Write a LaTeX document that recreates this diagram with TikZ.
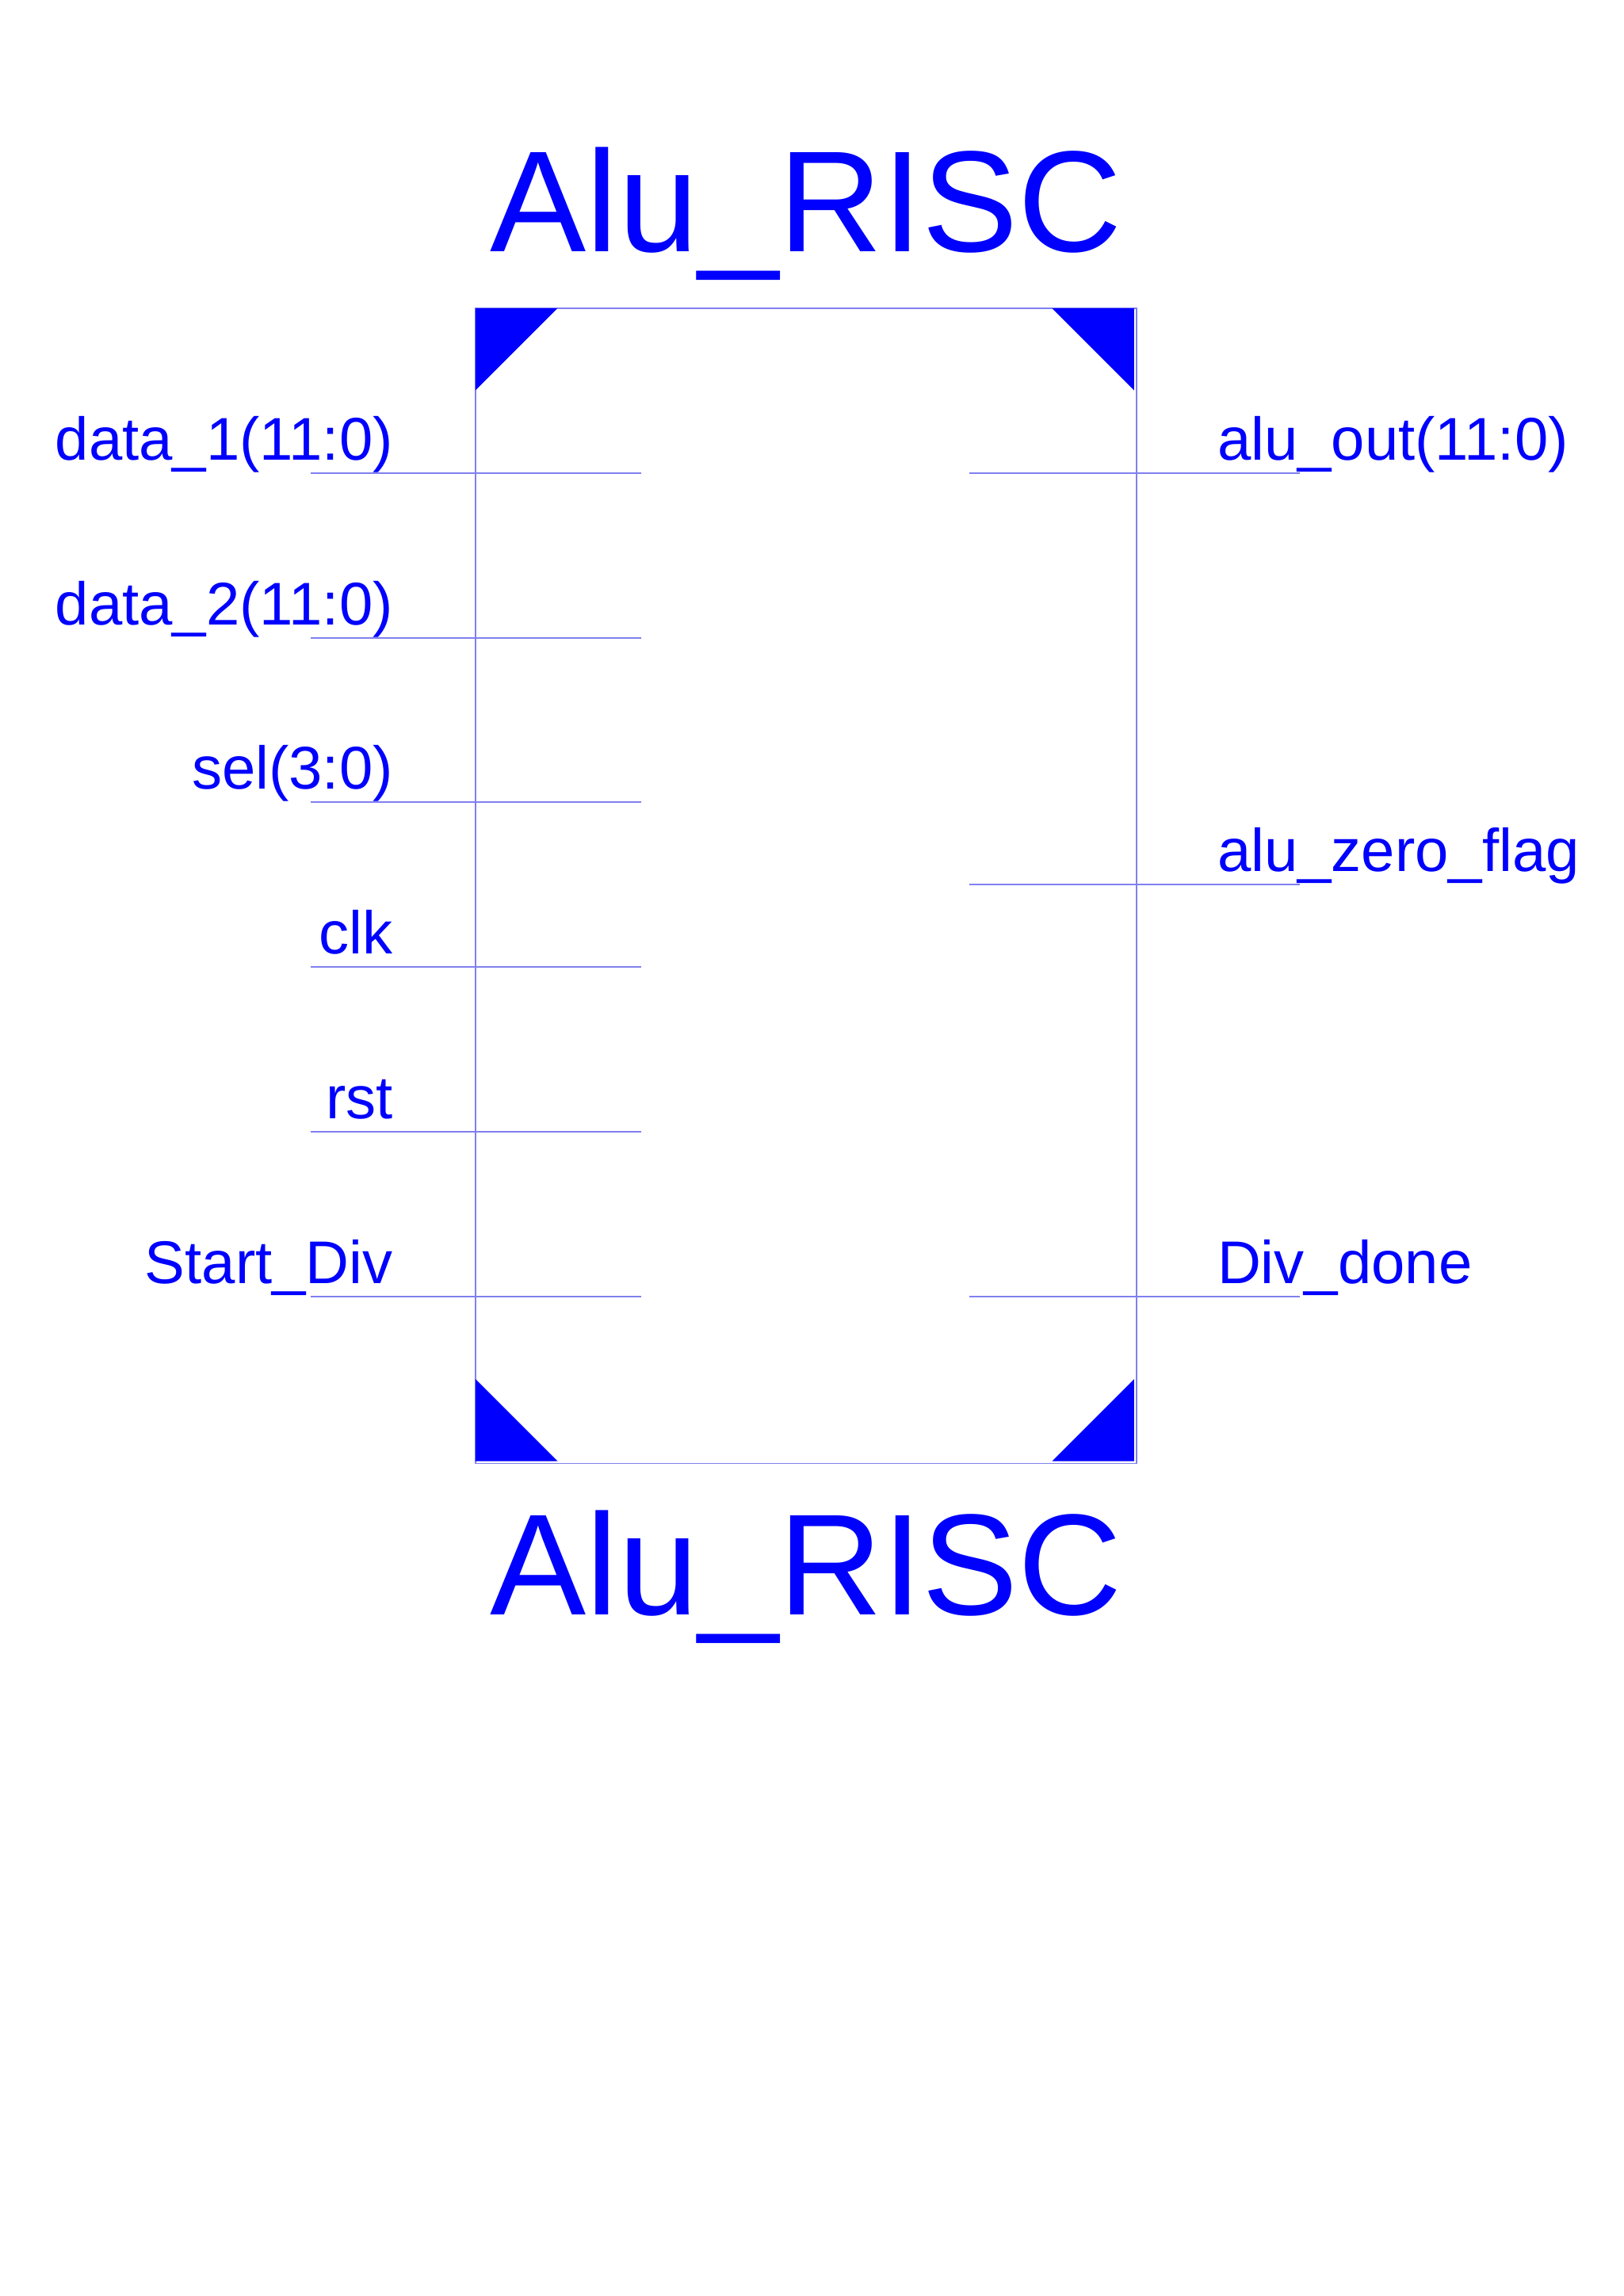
\documentclass[tikz,border=0pt]{standalone}
\usepackage{fontspec}
\setmainfont{Liberation Sans}
\usepackage{tikz}

\definecolor{symblue}{RGB}{0,0,255}
\definecolor{wireblue}{RGB}{128,128,240}

\tikzset{
    pinlabel/.style={inner sep=0pt, text=symblue, font=\fontsize{22.2}{26}\selectfont},
    symtitle/.style={inner sep=0pt, text=symblue, anchor=base, font=\fontsize{53}{60}\selectfont},
    pinwire/.style={wireblue, line width=0.6pt},
}

\begin{document}
\begin{tikzpicture}
    \useasboundingbox (0,0) rectangle (21,29.7);

    % Reference coordinates
    \coordinate (boxNW) at (6.15,25.71);
    \coordinate (boxSE) at (14.70,10.77);

    \coordinate (data1Out) at (4.02,23.58);
    \coordinate (data1In) at (8.29,23.58);

    \coordinate (data2Out) at (4.02,21.45);
    \coordinate (data2In) at (8.29,21.45);

    \coordinate (selOut) at (4.02,19.32);
    \coordinate (selIn) at (8.29,19.32);

    \coordinate (clkOut) at (4.02,17.19);
    \coordinate (clkIn) at (8.29,17.19);

    \coordinate (rstOut) at (4.02,15.06);
    \coordinate (rstIn) at (8.29,15.06);

    \coordinate (startOut) at (4.02,12.93);
    \coordinate (startIn) at (8.29,12.93);

    \coordinate (aluOutIn) at (12.54,23.58);
    \coordinate (aluOutOut) at (16.81,23.58);

    \coordinate (zeroIn) at (12.54,18.26);
    \coordinate (zeroOut) at (16.81,18.26);

    \coordinate (doneIn) at (12.54,12.93);
    \coordinate (doneOut) at (16.81,12.93);

    % Titles
    \node[symtitle] (titleTop) at (10.43,26.44) {Alu\_RISC};
    \node[symtitle] (titleBot) at (10.43,8.81) {Alu\_RISC};

    % Frame
    \draw[wireblue, line width=0.45pt] (boxNW) rectangle (boxSE);

    % Corner marks
    \fill[symblue] (6.15,25.71) -- (7.21,25.71) -- (6.15,24.65) -- cycle;
    \fill[symblue] (13.61,25.71) -- (14.67,25.71) -- (14.67,24.65) -- cycle;
    \fill[symblue] (6.15,10.80) -- (7.21,10.80) -- (6.15,11.86) -- cycle;
    \fill[symblue] (13.61,10.80) -- (14.67,10.80) -- (14.67,11.86) -- cycle;

    % Input pins
    \draw[pinwire] (data1Out) -- (data1In);
    \draw[pinwire] (data2Out) -- (data2In);
    \draw[pinwire] (selOut) -- (selIn);
    \draw[pinwire] (clkOut) -- (clkIn);
    \draw[pinwire] (rstOut) -- (rstIn);
    \draw[pinwire] (startOut) -- (startIn);

    % Output pins
    \draw[pinwire] (aluOutIn) -- (aluOutOut);
    \draw[pinwire] (zeroIn) -- (zeroOut);
    \draw[pinwire] (doneIn) -- (doneOut);

    % Input labels
    \node[pinlabel, anchor=base east] (data1) at (5.09,23.75) {data\_1(11:0)};
    \node[pinlabel, anchor=base east] (data2) at (5.09,21.62) {data\_2(11:0)};
    \node[pinlabel, anchor=base east] (sel) at (5.09,19.49) {sel(3:0)};
    \node[pinlabel, anchor=base east] (clk) at (5.09,17.36) {clk};
    \node[pinlabel, anchor=base east] (rst) at (5.09,15.23) {rst};
    \node[pinlabel, anchor=base east] (startDiv) at (5.09,13.10) {Start\_Div};

    % Output labels
    \node[pinlabel, anchor=base west] (aluOut) at (15.74,23.75) {alu\_out(11:0)};
    \node[pinlabel, anchor=base west] (aluZero) at (15.74,18.43) {alu\_zero\_flag};
    \node[pinlabel, anchor=base west] (divDone) at (15.74,13.10) {Div\_done};

\end{tikzpicture}
\end{document}
